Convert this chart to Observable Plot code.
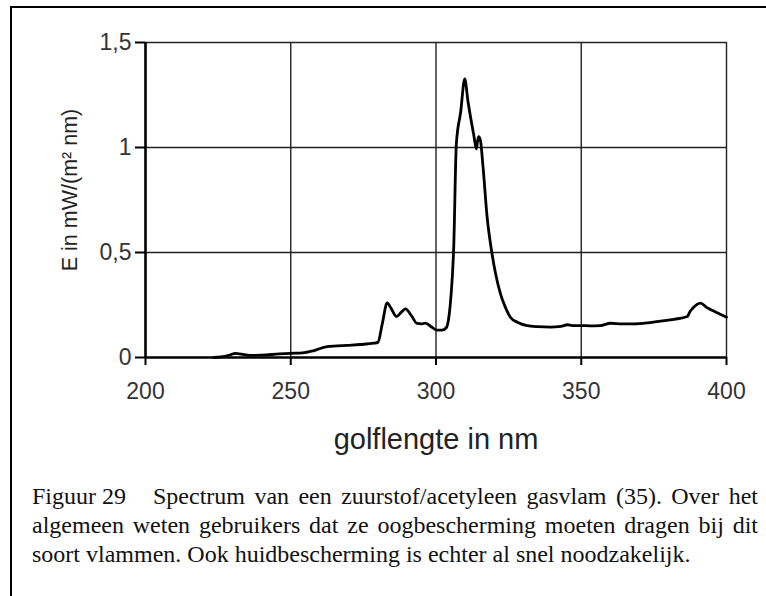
<!DOCTYPE html>
<html><head><meta charset="utf-8">
<script src="https://cdn.jsdelivr.net/npm/d3@7"></script>
<script src="https://cdn.jsdelivr.net/npm/@observablehq/plot@0.6"></script>
<style>
html,body{margin:0;padding:0;background:#fff;}
body{width:766px;height:596px;overflow:hidden;position:relative;}
#frame{position:absolute;left:10px;top:6px;width:900px;height:800px;border-left:2px solid #000;border-top:2px solid #000;}
#chart{position:absolute;left:0;top:0;}
#caption{position:absolute;left:32px;top:482px;width:726px;font-family:"Liberation Serif","Times New Roman",serif;font-size:24px;line-height:29px;color:#111;}
.j{text-align:justify;text-align-last:justify;}
.fig{display:inline-block;width:121px;text-align:left;text-align-last:left;}
</style></head>
<body>
<div id="frame"></div>
<div id="chart"></div>
<div id="caption">
<div class="j"><span class="fig">Figuur 29</span>Spectrum van een zuurstof/acetyleen gasvlam (35). Over het</div>
<div class="j">algemeen weten gebruikers dat ze oogbescherming moeten dragen bij dit</div>
<div>soort vlammen. Ook huidbescherming is echter al snel noodzakelijk.</div>
</div>
<script>
const wavelength = [223.5,226,229,231,233,236,240,246,250,254,258,262.5,266,269.4,274,278.6,280,281.5,283.2,284.5,286.4,288,289.5,291.5,293.5,295,296.4,298.5,300.4,302,303.6,304.5,305.2,306.1,307,308.5,309.9,311,311.9,313,313.9,314.3,314.7,315.3,316.2,317.6,319.3,320.5,322.2,324,325.6,328,331.4,335,339.4,343,345.2,347,350,353,356.6,360.1,364,368.1,373,377.3,382,386.5,387.5,388.2,391.1,393,395.6,398,400];
const irradiance = [0,0.003,0.012,0.02,0.016,0.01,0.011,0.017,0.02,0.022,0.033,0.052,0.055,0.058,0.062,0.068,0.072,0.16,0.26,0.235,0.195,0.215,0.232,0.2,0.162,0.16,0.164,0.145,0.13,0.13,0.143,0.2,0.3,0.525,1.017,1.17,1.327,1.22,1.144,1.06,0.993,1.03,1.052,1.033,0.906,0.668,0.493,0.4,0.303,0.235,0.192,0.168,0.152,0.147,0.145,0.148,0.156,0.152,0.152,0.151,0.152,0.163,0.16,0.16,0.165,0.173,0.182,0.195,0.22,0.232,0.259,0.24,0.221,0.205,0.192];
const xTicks = [200,250,300,350,400];
const yTicks = [0,0.5,1,1.5];
const yTickLabels = ["0","0,5","1","1,5"];
const xTitle = "golflengte in nm";
const yTitle = "E in mW/(m² nm)";

const data = wavelength.map((w,i)=>({w, e: irradiance[i]}));

const chart = Plot.plot({
  width:766, height:470,
  marginLeft:145, marginRight:40, marginTop:42, marginBottom:113,
  style:{fontFamily:'"Liberation Sans", Arial, sans-serif', background:'transparent', color:'#222'},
  x:{domain:[200,400]},
  y:{domain:[0,1.5]},
  marks:[
    Plot.gridX(xTicks.slice(1), {stroke:"#222", strokeOpacity:1, strokeWidth:1.4}),
    Plot.gridY(yTicks.slice(1), {stroke:"#222", strokeOpacity:1, strokeWidth:1.4}),
    Plot.line(data, {x:"w", y:"e", stroke:"#000", strokeWidth:2.8, curve:"monotone-x"}),
    Plot.ruleY([0], {stroke:"#000", strokeWidth:2.6}),
    Plot.ruleX([200], {stroke:"#000", strokeWidth:2.6}),
    Plot.axisX(xTicks, {tickSize:8, tickPadding:17, fontSize:23, label:null, strokeWidth:2, stroke:"#000", fill:"#333", tickFormat:d=>String(d)}),
    Plot.axisY(yTicks, {tickSize:10, tickPadding:4, fontSize:23, label:null, strokeWidth:2, stroke:"#000", fill:"#333", tickFormat:d=>yTickLabels[yTicks.indexOf(d)]}),
    Plot.text([xTitle], {frameAnchor:"bottom", textAnchor:"middle", lineAnchor:"middle", dy:82, fontSize:29, fill:"#222"}),
    Plot.text([yTitle], {frameAnchor:"left", textAnchor:"middle", lineAnchor:"middle", dx:-75, dy:-10, rotate:-90, fontSize:21.5, fill:"#222"})
  ]
});
document.getElementById("chart").appendChild(chart);
</script>
</body></html>
